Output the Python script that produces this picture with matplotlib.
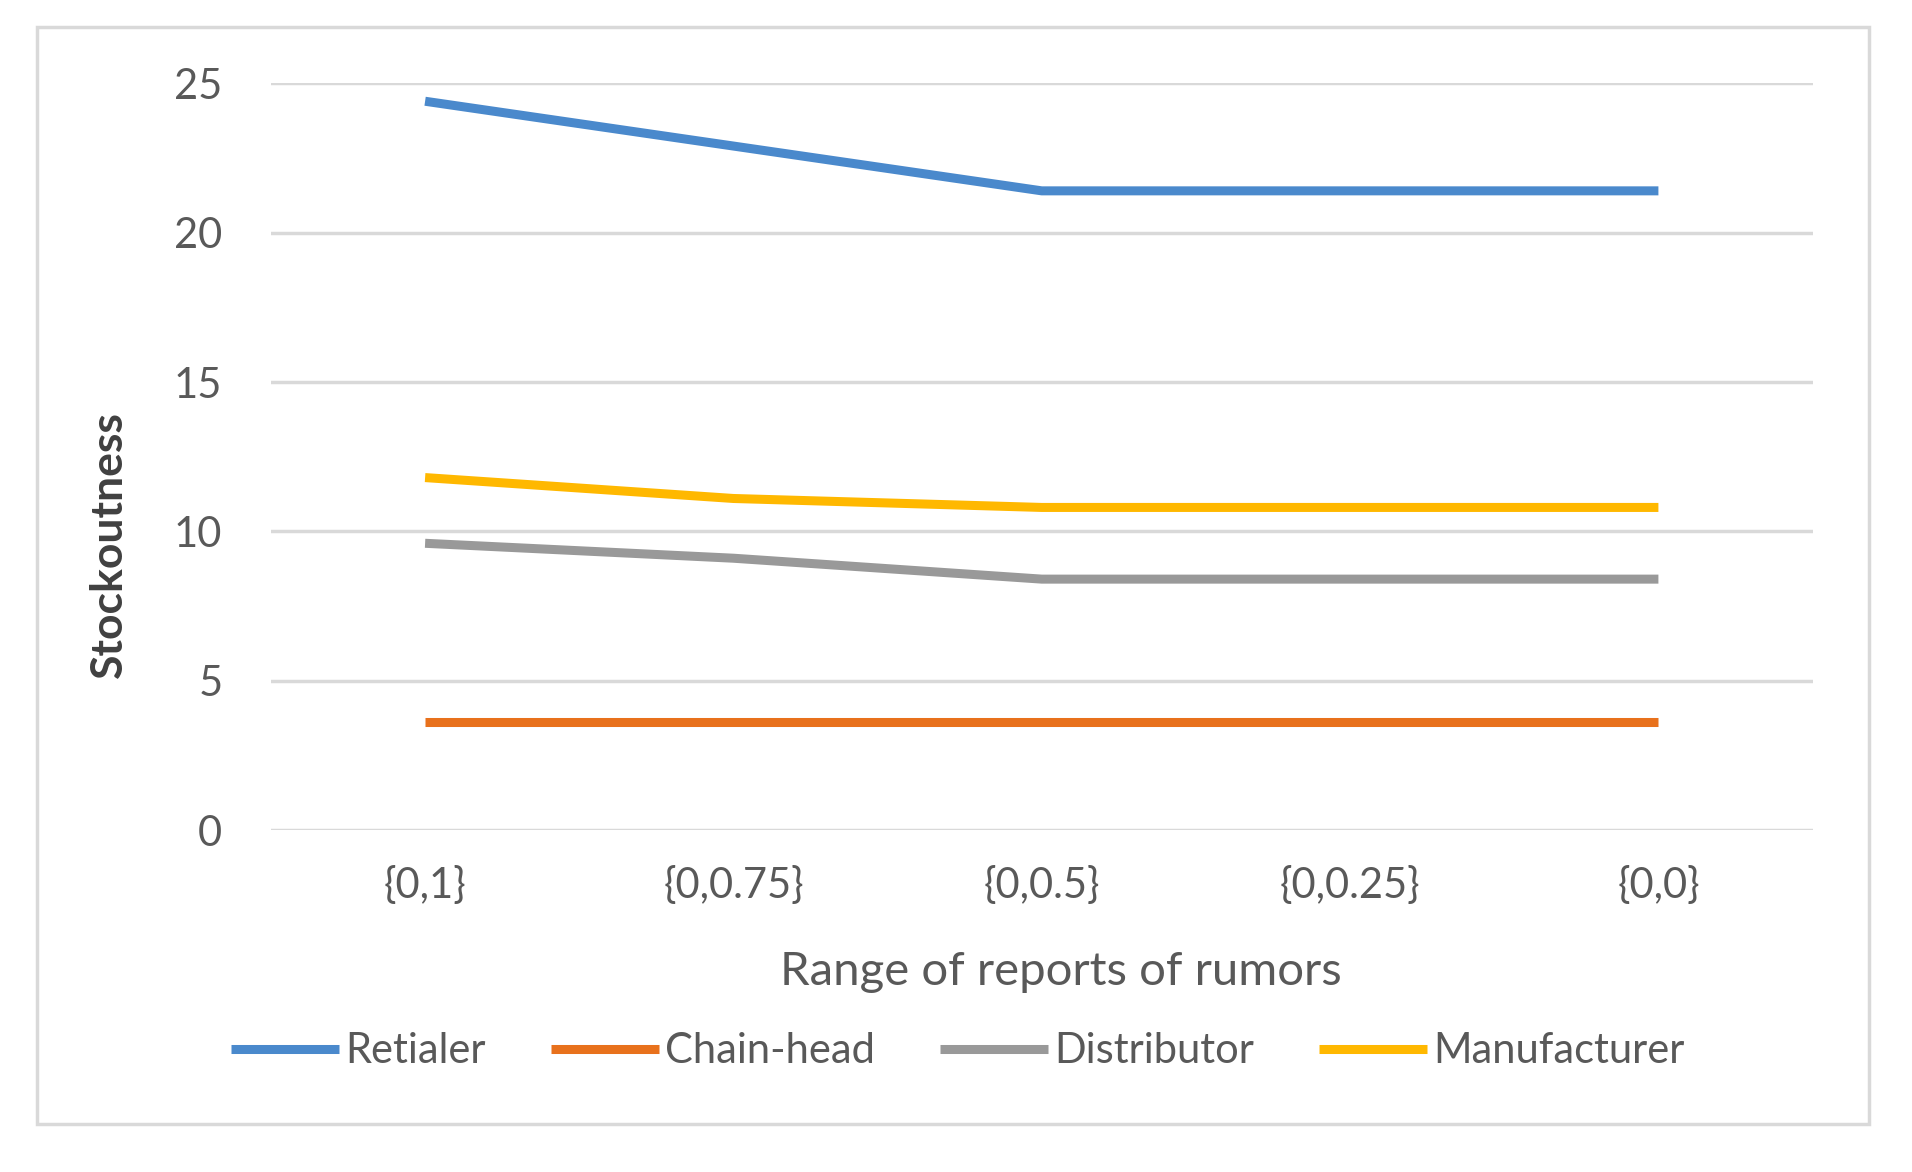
import numpy as np
import matplotlib.pyplot as plt
from matplotlib.patches import Rectangle

plt.rcParams['font.family'] = ['Lato', 'DejaVu Sans']

# data
categories = ['{0,1}', '{0,0.75}', '{0,0.5}', '{0,0.25}', '{0,0}']
retailer = [24.4, 22.9, 21.4, 21.4, 21.4]
chain_head = [3.6, 3.6, 3.6, 3.6, 3.6]
distributor = [9.6, 9.1, 8.4, 8.4, 8.4]
manufacturer = [11.8, 11.1, 10.8, 10.8, 10.8]
y_ticks = [0, 5, 10, 15, 20, 25]

names = ['Retialer', 'Chain-head', 'Distributor', 'Manufacturer']
colors = ['#4a89cc', '#e8711c', '#999999', '#ffb800']
text_col = '#595959'

fig = plt.figure(figsize=(19.12, 11.72), dpi=100)
ax = fig.add_axes([0.1417, 0.2918, 0.8063, 0.6371])

x = np.arange(len(categories))
for vals, name, col in zip([retailer, chain_head, distributor, manufacturer], names, colors):
    ax.plot(x, vals, color=col, lw=6.5, label=name, solid_capstyle='butt', solid_joinstyle='round')

ax.set_xlim(-0.5, len(categories) - 0.5)
ax.set_ylim(0, 25)
ax.set_yticks(y_ticks)
ax.set_xticks(x)
ax.set_xticklabels(categories)
ax.yaxis.grid(True, color='#d9d9d9', lw=2.5)
ax.set_axisbelow(True)
for s in ax.spines.values():
    s.set_visible(False)
ax.tick_params(length=0, labelsize=30, colors=text_col)
ax.tick_params(axis='y', pad=35)
ax.tick_params(axis='x', pad=26)

fig.text(0.555, 0.171, 'Range of reports of rumors', ha='center', va='center', fontsize=34, color=text_col)
fig.text(0.057, 0.535, 'Stockoutness', ha='center', va='center', rotation=90, fontsize=32,
         color='#404040', fontweight='bold')

fig.legend(loc='center', bbox_to_anchor=(0.501, 0.103), ncol=4, frameon=False, fontsize=30,
           handlelength=2.6, handletextpad=0.15, columnspacing=1.55, labelcolor=text_col)

fig.patches.append(Rectangle((0.0195, 0.041), 0.958, 0.936, transform=fig.transFigure,
                             fill=False, edgecolor='#d9d9d9', lw=2.5))

fig.savefig('out.png', dpi=100, facecolor='white')
